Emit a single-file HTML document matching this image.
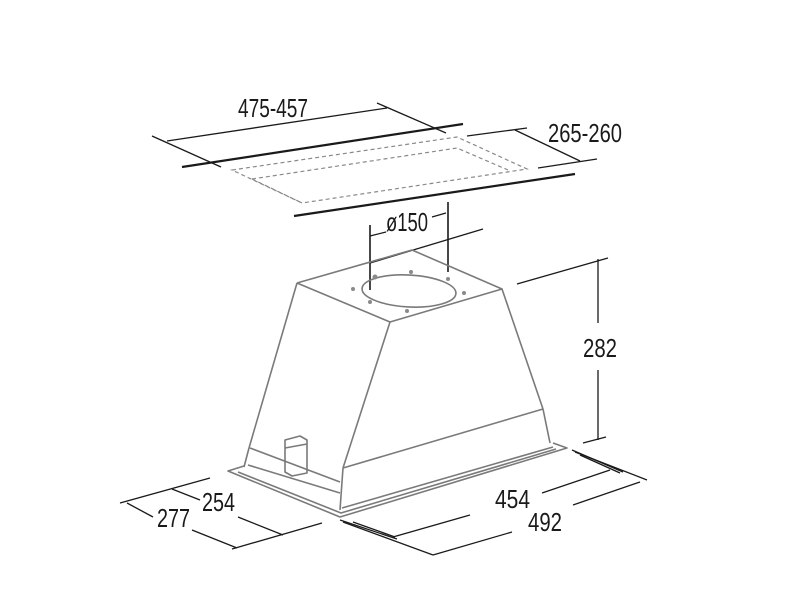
<!DOCTYPE html>
<html><head><meta charset="utf-8"><style>
html,body{margin:0;padding:0;background:#fff;width:800px;height:600px;overflow:hidden}
text{font-family:"Liberation Sans",sans-serif;font-size:26px;fill:#1a1a1a}
</style></head><body>
<svg width="800" height="600" viewBox="0 0 800 600" xmlns="http://www.w3.org/2000/svg">
<g stroke="#1a1a1a" stroke-width="1.3" fill="none">
<line x1="167" y1="141" x2="387" y2="108"/>
<line x1="152" y1="136" x2="221" y2="167"/>
<line x1="377" y1="103" x2="446" y2="133"/>
<line x1="182" y1="167" x2="463" y2="124" stroke-width="2.2"/>
<line x1="294" y1="216" x2="575" y2="174" stroke-width="2.2"/>
<line x1="515" y1="130" x2="580" y2="161"/>
<line x1="467" y1="136" x2="527" y2="128"/>
<line x1="538" y1="168" x2="597" y2="159"/>
<line x1="370" y1="225" x2="370" y2="290" stroke-width="1.6"/>
<line x1="448" y1="202" x2="448" y2="272" stroke-width="1.6"/>
<line x1="370" y1="236" x2="386" y2="232"/>
<line x1="432" y1="217" x2="446" y2="213"/>
<line x1="370" y1="263" x2="483" y2="229"/>
<line x1="517" y1="284" x2="608" y2="258"/>
<line x1="598" y1="259" x2="598" y2="323"/>
<line x1="598" y1="370" x2="598" y2="440"/>
<line x1="583" y1="443" x2="606" y2="437"/>
<line x1="572" y1="450" x2="623" y2="472"/>
<line x1="580" y1="455" x2="620" y2="473"/>
<line x1="575" y1="452" x2="647" y2="480"/>
<line x1="542" y1="493" x2="610" y2="470"/>
<line x1="573" y1="505" x2="640" y2="482"/>
<line x1="340" y1="520" x2="397" y2="539"/>
<line x1="353" y1="522" x2="395" y2="537"/>
<line x1="393" y1="537" x2="470" y2="515"/>
<line x1="343" y1="522" x2="433" y2="555"/>
<line x1="433" y1="555" x2="512" y2="532"/>
<line x1="120" y1="503" x2="210" y2="478"/>
<line x1="172" y1="489" x2="200" y2="500"/>
<line x1="127" y1="503" x2="153" y2="517"/>
<line x1="192" y1="530" x2="237" y2="548"/>
<line x1="232" y1="549" x2="322" y2="523"/>
<line x1="238" y1="517" x2="283" y2="535"/>
</g>
<g stroke="#8a8a8a" stroke-width="1.2" fill="none" stroke-dasharray="4,3">
<polygon points="232,170 457,137 527,169 302,203"/>
<polyline points="252,179 457,148 508,170"/>
<line x1="252" y1="179" x2="302" y2="203"/>
</g>
<g stroke="#7a7a7a" stroke-width="1.6" fill="none" stroke-linejoin="round">
<polyline points="244,466 228,471 340,517 567,448 553,443"/>
<polyline points="238,472 341,513 556,449"/>
<polyline points="297,283 412,250 502,289 390,322 297,283"/>
<line x1="297" y1="283" x2="249" y2="448"/>
<line x1="390" y1="322" x2="343" y2="468"/>
<line x1="502" y1="289" x2="543" y2="409"/>
<line x1="343" y1="468" x2="543" y2="409"/>
<line x1="543" y1="409" x2="550" y2="443"/>
<line x1="250" y1="448" x2="340" y2="482"/>
<line x1="248" y1="465" x2="340" y2="493"/>
<line x1="249" y1="448" x2="244" y2="467"/>
<line x1="343" y1="468" x2="340" y2="510"/>
<line x1="342" y1="508" x2="553" y2="447"/>
<ellipse cx="409" cy="291" rx="47" ry="16" transform="rotate(3 409 291)"/>
<polygon points="285,440 300,436 307,440 307,473 292,476 285,472"/>
<line x1="285" y1="448" x2="307" y2="444"/>
</g>
<g fill="#8a8a8a">
<circle cx="411" cy="272" r="2"/><circle cx="353" cy="289" r="2"/><circle cx="464" cy="293" r="2"/>
<circle cx="407" cy="311" r="2"/><circle cx="370" cy="302" r="2"/><circle cx="448" cy="279" r="2"/><circle cx="375" cy="277" r="2.5"/>
</g>
<g>
<text x="238" y="117" textLength="70" lengthAdjust="spacingAndGlyphs">475-457</text>
<text x="548" y="142" textLength="74" lengthAdjust="spacingAndGlyphs">265-260</text>
<text x="386" y="231" textLength="42" lengthAdjust="spacingAndGlyphs">ø150</text>
<text x="583" y="357" textLength="34" lengthAdjust="spacingAndGlyphs">282</text>
<text x="495" y="508" textLength="35" lengthAdjust="spacingAndGlyphs">454</text>
<text x="528" y="531" textLength="34" lengthAdjust="spacingAndGlyphs">492</text>
<text x="202" y="511" textLength="33" lengthAdjust="spacingAndGlyphs">254</text>
<text x="157" y="527" textLength="33" lengthAdjust="spacingAndGlyphs">277</text>
</g>
</svg>
</body></html>
